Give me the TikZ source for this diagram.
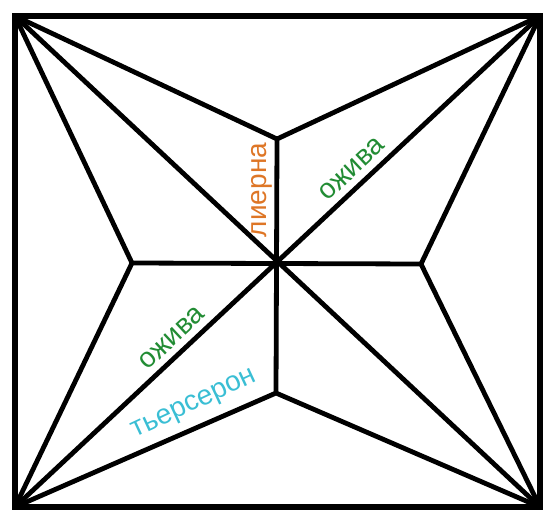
\documentclass[tikz,border=0pt]{standalone}
\usepackage{fontspec}
\setmainfont{Liberation Sans}
\definecolor{liernacol}{RGB}{222,118,38}
\definecolor{ozhivacol}{RGB}{34,140,52}
\definecolor{tiercecol}{RGB}{58,190,212}

\begin{document}
\begin{tikzpicture}[x=1pt, y=-1pt, every node/.style={align=center, inner sep=0pt},
    rib/.style={line width=4.8pt, line join=round, line cap=round},
    lbl/.style={font=\fontsize{28}{30}\selectfont}]
        \useasboundingbox (0,0) rectangle (553,517);

        % Corners and key points
        \coordinate (tl) at (15,16);
        \coordinate (tr) at (540,16);
        \coordinate (br) at (540,507);
        \coordinate (bl) at (15,507);
        \coordinate (c) at (278,263);
        \coordinate (top) at (277,139);
        \coordinate (lft) at (132,263);
        \coordinate (rgt) at (421,264);
        \coordinate (bot) at (276,393);

        % Frame
        \draw[line width=6pt] (tl) rectangle (br);

        % Diagonals
        \draw[rib] (tl) -- (br);
        \draw[rib] (tr) -- (bl);

        % Liernes
        \draw[rib] (top) -- (bot);
        \draw[rib] (lft) -- (rgt);

        % Tiercerons
        \draw[rib] (tl) -- (top) -- (tr);
        \draw[rib] (tr) -- (rgt) -- (br);
        \draw[rib] (br) -- (bot) -- (bl);
        \draw[rib] (bl) -- (lft) -- (tl);

        % Labels
        \node[lbl, text=liernacol, rotate=90] (lierna) at (262,190) {лиерна};
        \node[lbl, text=ozhivacol, rotate=43] (ozhivaA) at (352,169) {ожива};
        \node[lbl, text=ozhivacol, rotate=43] (ozhivaB) at (172,338) {ожива};
        \node[lbl, text=tiercecol, rotate=25] (tierce) at (195,405) {тьерсерон};

    \end{tikzpicture}
\end{document}
